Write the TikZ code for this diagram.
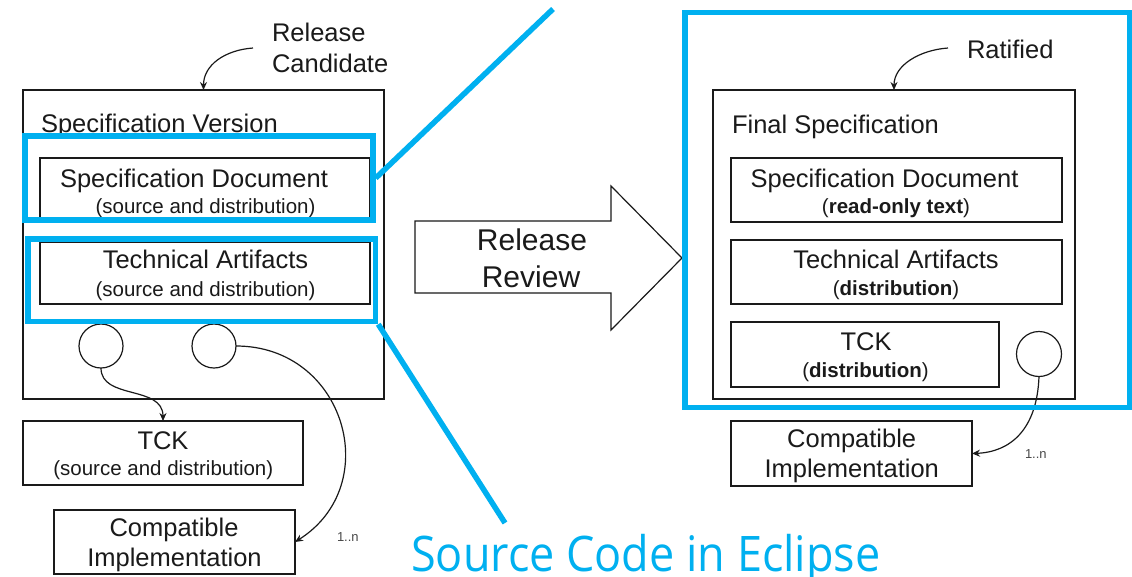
\documentclass[tikz,border=0pt]{standalone}
\usepackage{fontspec}
\setmainfont{Liberation Sans}
\newfontfamily\blueface{Open Sans}
\usetikzlibrary{arrows.meta}
\definecolor{hiblue}{HTML}{00B0F0}
\definecolor{ink}{HTML}{1A1A1A}
\tikzset{
  box/.style={draw=ink, line width=1.3pt, inner sep=0pt, outer sep=0pt, rectangle},
  bub/.style={draw=ink, line width=1.2pt, circle, inner sep=0pt, outer sep=0pt, minimum size=44pt},
  lbl/.style={inner sep=0pt, outer sep=0pt, text=ink, font=\fontsize{25.5}{30}\selectfont},
  sub/.style={inner sep=0pt, outer sep=0pt, text=ink, font=\fontsize{20.5}{24}\selectfont},
  tiny/.style={inner sep=0pt, outer sep=0pt, text=ink!80, font=\fontsize{13}{15}\selectfont},
  conn/.style={draw=ink, line width=1.2pt, -{Stealth[length=8pt,width=7pt]}},
  hilite/.style={draw=hiblue, line width=5.5pt},
}
\begin{document}
\begin{tikzpicture}[x=1pt,y=-1pt]
\useasboundingbox (0,0) rectangle (1132,576);
\fill[white] (0,0) rectangle (1132,576);

% ---------- left side ----------
\node[box, minimum width=361pt, minimum height=309pt] (sv) at (203.5,244.5) {};
\node[lbl, anchor=base west] (svt) at (41,132) {Specification Version};
\node[box, minimum width=330pt, minimum height=61pt] (lsd) at (205,188.5) {};
\node[lbl, anchor=base] (lsdt) at (194,187) {Specification Document};
\node[sub, anchor=base] (lsds) at (205.5,213) {(source and distribution)};
\node[box, minimum width=330pt, minimum height=62pt] (lta) at (205,273) {};
\node[lbl, anchor=base] (ltat) at (205.5,268) {Technical Artifacts};
\node[sub, anchor=base] (ltas) at (205.5,296) {(source and distribution)};
\node[bub] (c1) at (101,346) {};
\node[bub] (c2) at (214,346) {};
\node[box, minimum width=280pt, minimum height=64pt] (ltck) at (163,453) {};
\node[lbl, anchor=base] (ltckt) at (163,449) {TCK};
\node[sub, anchor=base] (ltcks) at (163.3,475) {(source and distribution)};
\node[box, minimum width=241pt, minimum height=64pt] (lci) at (174.5,542) {};
\node[lbl, anchor=base] (lcit) at (174,536) {Compatible};
\node[lbl, anchor=base] (lcis) at (174.5,566) {Implementation};
\node[tiny, anchor=base west] (ln) at (337,541) {1..n};
\node[lbl, anchor=base west, align=left] (rc1) at (272,41.7) {Release};
\node[lbl, anchor=base west] (rc2) at (272,72) {Candidate};
\coordinate (rcfrom) at (253,48);

\draw[conn] (rcfrom) .. controls (225,50) and (203.5,65) .. (sv.north);
\draw[conn] (c1.south) .. controls (101,400) and (163,385) .. (ltck.north);
\draw[conn] (c2.east) .. controls (345,346) and (385,485) .. (lci.east);

% ---------- release review arrow ----------
\draw[draw=ink, line width=1.2pt, fill=white, line join=miter]
  (415,221) -- (611,221) -- (611,186) -- (682,258) -- (611,330) -- (611,293) -- (415,293) -- cycle;
\node[inner sep=0pt, text=ink, font=\fontsize{30}{34}\selectfont, anchor=base] (rr1) at (532,250) {Release};
\node[inner sep=0pt, text=ink, font=\fontsize{30}{34}\selectfont, anchor=base] (rr2) at (531,287) {Review};

% ---------- right side ----------
\node[box, minimum width=362pt, minimum height=309pt] (fs) at (894,244.5) {};
\node[lbl, anchor=base west] (fst) at (732,133) {Final Specification};
\node[box, minimum width=331pt, minimum height=64pt] (rsd) at (896.5,190) {};
\node[lbl, anchor=base] (rsdt) at (884.5,187) {Specification Document};
\node[sub, anchor=base] (rsds) at (896,213) {(\textbf{read-only text})};
\node[box, minimum width=331pt, minimum height=64pt] (rta) at (896.5,272) {};
\node[lbl, anchor=base] (rtat) at (896,268) {Technical Artifacts};
\node[sub, anchor=base] (rtas) at (896,295) {(\textbf{distribution})};
\node[box, minimum width=268pt, minimum height=65pt] (rtck) at (865,354.5) {};
\node[lbl, anchor=base] (rtckt) at (866,350) {TCK};
\node[sub, anchor=base] (rtcks) at (865.5,377) {(\textbf{distribution})};
\node[bub, minimum size=45pt] (c3) at (1039,354) {};
\node[box, minimum width=241pt, minimum height=65pt] (rci) at (851.5,453.5) {};
\node[lbl, anchor=base] (rcit) at (851.7,447) {Compatible};
\node[lbl, anchor=base] (rcis) at (851.7,477) {Implementation};
\node[tiny, anchor=base west] (rn) at (1025,458) {1..n};
\node[lbl, anchor=base west] (rat) at (967,58) {Ratified};
\coordinate (ratfrom) at (948,48);

\draw[conn] (ratfrom) .. controls (920,50) and (894,65) .. (fs.north);
\draw[conn] (c3.south) .. controls (1037,430) and (1010,452) .. (rci.east);

% ---------- highlights ----------
\node[hilite, rectangle, inner sep=0pt, minimum width=348pt, minimum height=84pt] (b1) at (199,178) {};
\node[hilite, rectangle, inner sep=0pt, minimum width=347.5pt, minimum height=82.5pt] (b2) at (201.75,280.25) {};
\node[hilite, rectangle, inner sep=0pt, minimum width=444.5pt, minimum height=395pt] (b3) at (907.25,210) {};
\coordinate (topend) at (553,9);
\coordinate (botend) at (505,523);
\draw[hilite] (b1.east) -- (topend);
\draw[hilite] (b2.south east) -- (botend);
\node[inner sep=0pt, anchor=base west, text=hiblue, font=\blueface\fontsize{49}{56}\selectfont] (src) at (411,571) {\scalebox{0.918}[1]{Source Code in Eclipse}};
\end{tikzpicture}
\end{document}
